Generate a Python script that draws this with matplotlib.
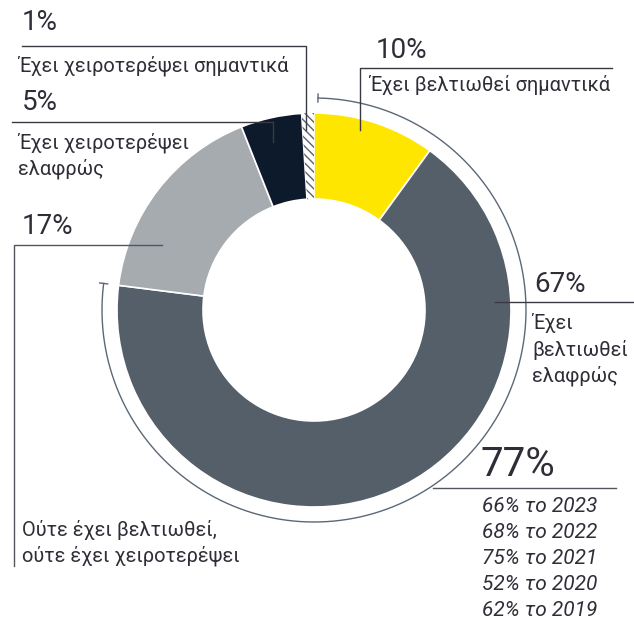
import numpy as np
import matplotlib.pyplot as plt

# survey shares, clockwise from 12 o'clock
categories = ["Έχει βελτιωθεί σημαντικά", "Έχει βελτιωθεί ελαφρώς",
              "Ούτε έχει βελτιωθεί, ούτε έχει χειροτερέψει",
              "Έχει χειροτερέψει ελαφρώς", "Έχει χειροτερέψει σημαντικά"]
shares = [10, 67, 17, 5, 1]
colors = ["#FFE600", "#545F6A", "#A6ABB0", "#0D1A2B", "white"]

improved_total = 77
history_years = [2023, 2022, 2021, 2020, 2019]
history_values = [66, 68, 75, 52, 62]

W, H = 634, 620
TXT = "#2E2E38"
LINE = "#3A3A42"
plt.rcParams['font.family'] = ['Roboto', 'DejaVu Sans']

fig = plt.figure(figsize=(W / 100, H / 100), dpi=100)
ax = fig.add_axes([0, 0, 1, 1])

def py(y):
    # pixel rows are measured from the top
    return H - y

cx, cy, R = 314, py(310), 197
wedges, _ = ax.pie(shares, colors=colors, startangle=90, counterclock=False,
                   radius=R, center=(cx, cy),
                   wedgeprops=dict(width=86, edgecolor="white", linewidth=1.2))
wedges[-1].set_hatch("\\\\\\\\")
wedges[-1].set_edgecolor("#5A6470")
wedges[-1].set_linewidth(0)

# outer arc spanning the "improved" slices
r_arc = 212
frac = np.linspace(0.003, (shares[0] + shares[1]) / 100, 300)
theta = np.pi / 2 - 2 * np.pi * frac
ax.plot(cx + r_arc * np.cos(theta), cy + r_arc * np.sin(theta), color="#5B6877", lw=1)
for f in (frac[0], frac[-1]):
    t = np.pi / 2 - 2 * np.pi * f
    ex, ey = cx + r_arc * np.cos(t), cy + r_arc * np.sin(t)
    ax.plot([ex - 4 * np.cos(t), ex + 4 * np.cos(t)],
            [ey - 4 * np.sin(t), ey + 4 * np.sin(t)], color="#5B6877", lw=1)

def leader(xs, ys, color=LINE):
    ax.plot(xs, [py(v) for v in ys], color=color, lw=1)

big = dict(color=TXT, fontsize=20, va="center", ha="left")
lab = dict(color=TXT, fontsize=14.4, va="center", ha="left")

# 1% - worsened significantly
ax.text(22, py(22), f"{shares[4]}%", **big)
leader([22, 306, 306], [46, 46, 130])
ax.text(18, py(66), categories[4], **lab)

# 5% - worsened slightly
ax.text(22, py(102), f"{shares[3]}%", **big)
leader([12, 273, 273], [122, 122, 142])
ax.text(18, py(143), "Έχει χειροτερέψει", **lab)
ax.text(18, py(169), "ελαφρώς", **lab)

# 10% - improved significantly
ax.text(376, py(50), f"{shares[0]}%", **big)
leader([360, 360, 612], [130, 68, 68])
ax.text(369, py(85), categories[0], **lab)

# 17% - unchanged
ax.text(22, py(226), f"{shares[2]}%", **big)
leader([162, 14, 14], [245, 245, 566], color="#555560")
ax.text(22, py(530), "Ούτε έχει βελτιωθεί,", **lab)
ax.text(22, py(556), "ούτε έχει χειροτερέψει", **lab)

# 67% - improved slightly
ax.text(534, py(285), f"{shares[1]}%", **big)
leader([495, 634], [302, 302])
for i, s in enumerate(["Έχει", "βελτιωθεί", "ελαφρώς"]):
    ax.text(532, py(323 + 26.5 * i), s, **lab)

# 77% total improved, with earlier years
ax.text(481, py(465), f"{improved_total}%", color=TXT, fontsize=29,
        va="center", ha="left")
leader([433, 616], [488, 488], color="#555560")
for i, (yr, v) in enumerate(zip(history_years, history_values)):
    ax.text(482, py(506 + 26 * i), f"{v}% το {yr}", color=TXT, fontsize=15,
            style="italic", va="center", ha="left")

ax.set_xlim(0, W)
ax.set_ylim(0, H)
ax.set_aspect("equal")
ax.axis("off")
fig.savefig("out.png", dpi=100)
